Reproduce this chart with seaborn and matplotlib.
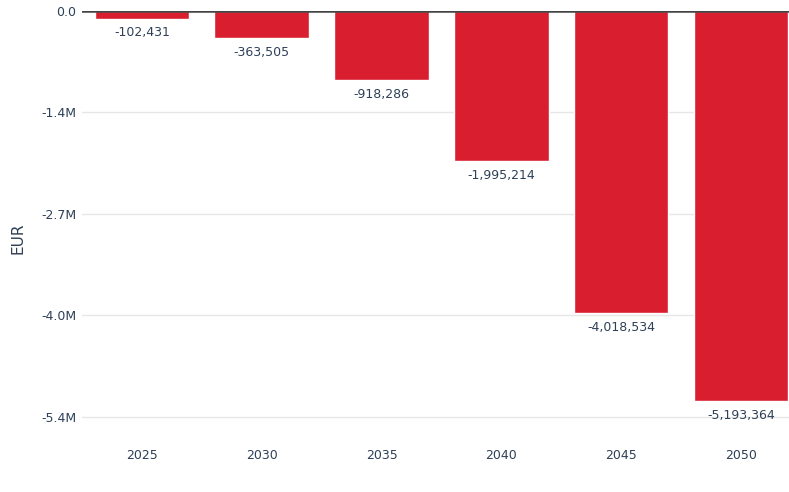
import numpy as np
import pandas as pd
import matplotlib
matplotlib.use("Agg")
import matplotlib.pyplot as plt
import seaborn as sns
from matplotlib.ticker import FuncFormatter

# Annual values (EUR)
years = ["2025", "2030", "2035", "2040", "2045", "2050"]
values = [-102431, -363505, -918286, -1995214, -4018534, -5193364]
y_ticks = [0, -1.35e6, -2.7e6, -4.05e6, -5.4e6]

BAR_RED = "#D91E2F"
TEXT_NAVY = "#2E4057"

sns.set_theme(style="white")
plt.rcParams["font.family"] = ["DejaVu Sans"]

df = pd.DataFrame({"year": years, "value": values})

fig = plt.figure(figsize=(7.89, 4.92), dpi=100)
ax = fig.add_axes([0.104, 0.1037, 0.911, 0.8740])

sns.barplot(data=df, x="year", y="value", color=BAR_RED, width=0.79,
            saturation=1, ax=ax, zorder=3)

ax.set_ylim(-5.72e6, 0)
ax.set_xlim(-0.5, len(years) - 0.5)
ax.set_yticks(y_ticks)


def fmt(v, _):
    if v == 0:
        return "0.0"
    return f"{v / 1e6:.1f}M"


ax.yaxis.set_major_formatter(FuncFormatter(fmt))
ax.grid(axis="y", color="#E6E6E6", linewidth=1, zorder=0)
ax.axhline(0, color="#444444", linewidth=1.8, zorder=4)

for s in ax.spines.values():
    s.set_visible(False)

ax.tick_params(axis="both", length=0, labelsize=9, colors=TEXT_NAVY)
ax.tick_params(axis="y", pad=4)
ax.tick_params(axis="x", pad=6)
ax.set_xlabel("")
ax.set_ylabel("EUR", color=TEXT_NAVY, fontsize=11)
ax.yaxis.set_label_coords(-0.078, 0.472)

for i, v in enumerate(values):
    ax.annotate(f"{v:,}", xy=(i, v), xytext=(0, -5.5), textcoords="offset points",
                ha="center", va="top", fontsize=9, color=TEXT_NAVY, zorder=5)

fig.savefig("out.png", dpi=100)
